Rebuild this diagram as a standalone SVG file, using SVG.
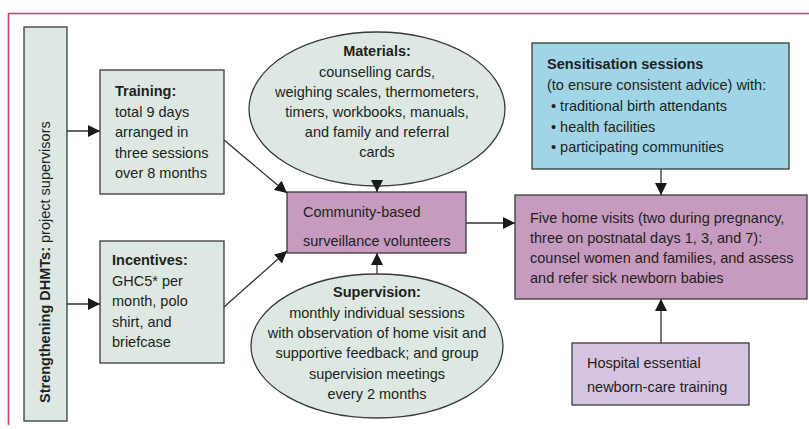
<svg xmlns="http://www.w3.org/2000/svg" width="809" height="429" viewBox="0 0 809 429">
  <style>
    text { font-family: "Liberation Sans", Arial, sans-serif; font-size: 14.5px; fill: #231f20; }
    .b { font-weight: bold; }
    .c { text-anchor: middle; }
    .box { stroke: #3a3a3a; stroke-width: 1.3; }
    .green { fill: #dce8e1; }
    .purple { fill: #c69bbf; }
    .blue { fill: #9fd5e7; }
    .lav { fill: #d4c4e1; }
    .edge { fill: none; stroke: #333; stroke-width: 1.3; marker-end: url(#arrow); }
    .frame { fill: none; stroke: #cf3d66; stroke-width: 1.6; }
  </style>
  <defs>
    <marker id="arrow" markerUnits="userSpaceOnUse" markerWidth="12" markerHeight="12" refX="12" refY="6" orient="auto">
      <path d="M0,0 L12,6 L0,12 z" fill="#1a1a1a"/>
    </marker>
  </defs>

  <rect width="809" height="429" fill="#ffffff"/>

  <!-- panel frame: top and left rules -->
  <path class="frame" d="M8.5,425 L8.5,13.5 L809,13.5"/>

  <!-- left bar -->
  <g id="dhmts">
    <rect class="box green" x="24" y="27" width="43" height="394"/>
    <text transform="translate(50,403) rotate(-90)"><tspan class="b">Strengthening DHMTs:</tspan> project supervisors</text>
  </g>

  <g id="training">
    <rect class="box green" x="100" y="70" width="124" height="124"/>
    <text x="115" y="96"><tspan class="b">Training:</tspan></text>
    <text x="115" y="117">total 9 days</text>
    <text x="115" y="137">arranged in</text>
    <text x="115" y="157.5">three sessions</text>
    <text x="115" y="178">over 8 months</text>
  </g>

  <g id="incentives">
    <rect class="box green" x="100" y="241" width="124" height="122"/>
    <text x="112" y="265"><tspan class="b">Incentives:</tspan></text>
    <text x="112" y="286">GHC5* per</text>
    <text x="112" y="306">month, polo</text>
    <text x="112" y="327">shirt, and</text>
    <text x="112" y="347">briefcase</text>
  </g>

  <g id="materials">
    <ellipse class="box green" cx="377" cy="109" rx="128" ry="77"/>
    <text class="c b" x="377" y="56">Materials:</text>
    <text class="c" x="377" y="77">counselling cards,</text>
    <text class="c" x="377" y="97">weighing scales, thermometers,</text>
    <text class="c" x="377" y="117">timers, workbooks, manuals,</text>
    <text class="c" x="377" y="137">and family and referral</text>
    <text class="c" x="377" y="157">cards</text>
  </g>

  <g id="volunteers">
    <rect class="box purple" x="287" y="192" width="179" height="61"/>
    <text x="303" y="217">Community-based</text>
    <text x="303" y="246">surveillance volunteers</text>
  </g>

  <g id="supervision">
    <ellipse class="box green" cx="377" cy="346" rx="126" ry="72"/>
    <text class="c b" x="377" y="297">Supervision:</text>
    <text class="c" x="377" y="318">monthly individual sessions</text>
    <text class="c" x="377" y="338">with observation of home visit and</text>
    <text class="c" x="377" y="358">supportive feedback; and group</text>
    <text class="c" x="377" y="379">supervision meetings</text>
    <text class="c" x="377" y="399">every 2 months</text>
  </g>

  <g id="sensitisation">
    <rect class="box blue" x="532" y="43" width="257" height="126"/>
    <text x="547" y="69"><tspan class="b">Sensitisation sessions</tspan></text>
    <text x="547" y="90">(to ensure consistent advice) with:</text>
    <text x="551" y="111">• traditional birth attendants</text>
    <text x="551" y="132">• health facilities</text>
    <text x="551" y="152">• participating communities</text>
  </g>

  <g id="home-visits">
    <rect class="box purple" x="515" y="195" width="292" height="104"/>
    <text x="530" y="223">Five home visits (two during pregnancy,</text>
    <text x="530" y="243">three on postnatal days 1, 3, and 7):</text>
    <text x="530" y="263">counsel women and families, and assess</text>
    <text x="530" y="283">and refer sick newborn babies</text>
  </g>

  <g id="hospital">
    <rect class="box lav" x="572" y="343" width="177" height="62"/>
    <text x="587" y="368">Hospital essential</text>
    <text x="587" y="392">newborn-care training</text>
  </g>

  <g id="connectors">
    <path class="edge" d="M67,131 L100,131"/>
    <path class="edge" d="M67,304 L100,304"/>
    <path class="edge" d="M224,140 L287,193"/>
    <path class="edge" d="M224,307 L287,251"/>
    <path class="edge" d="M377,186 L377,192"/>
    <path class="edge" d="M377,274 L377,253"/>
    <path class="edge" d="M466,223 L515,223"/>
    <path class="edge" d="M661,169 L661,195"/>
    <path class="edge" d="M661,343 L661,299"/>
  </g>
</svg>
